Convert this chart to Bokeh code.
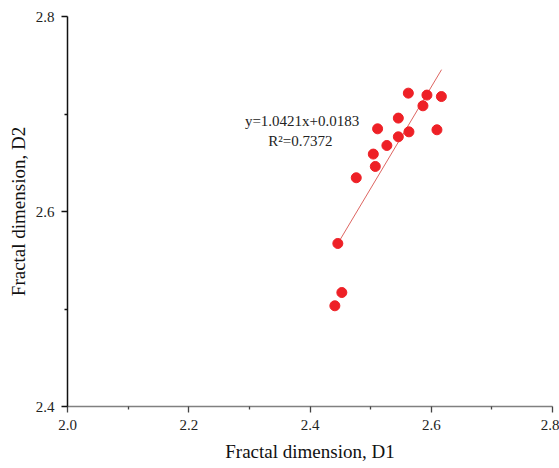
from bokeh.plotting import figure
from bokeh.models import Range1d, Label, FixedTicker
from bokeh.embed import file_html
from bokeh.resources import INLINE

# Data
d1 = [2.5622, 2.5929, 2.6167, 2.5863, 2.5457, 2.5115, 2.5632, 2.6094,
      2.5457, 2.5268, 2.5044, 2.5077, 2.4763, 2.4459, 2.4525, 2.4410]
d2 = [2.7214, 2.7194, 2.7179, 2.7084, 2.6958, 2.6848, 2.6817, 2.6838,
      2.6766, 2.6677, 2.6589, 2.6462, 2.6346, 2.5672, 2.5169, 2.5033]
slope = 1.0421
intercept = 0.0183
r2 = 0.7372
fit_x = [2.449, 2.617]
x_ticks = [2.0, 2.2, 2.4, 2.6, 2.8]
y_ticks = [2.4, 2.6, 2.8]

FONT = "Liberation Serif"

p = figure(width=559, height=468, output_backend="svg", toolbar_location=None,
           x_range=Range1d(2.0, 2.8), y_range=Range1d(2.4, 2.8),
           min_border_left=67, min_border_right=7, min_border_top=16,
           min_border_bottom=62)
p.outline_line_color = None
p.xgrid.visible = False
p.ygrid.visible = False
p.background_fill_color = "white"
p.border_fill_color = "white"

fit_y = [slope * x + intercept for x in fit_x]
p.line(fit_x, fit_y, line_color="#d9534f", line_width=0.9)
p.scatter(d1, d2, size=10, fill_color="#ee2026", line_color="#ee2026")

p.xaxis.ticker = FixedTicker(ticks=x_ticks, minor_ticks=[2.1, 2.3, 2.5, 2.7])
p.yaxis.ticker = FixedTicker(ticks=y_ticks, minor_ticks=[2.5, 2.7])
p.xaxis.major_label_overrides = {t: f"{t:.1f}" for t in x_ticks}
p.yaxis.major_label_overrides = {t: f"{t:.1f}" for t in y_ticks}

for ax in (p.xaxis, p.yaxis):
    ax.major_label_text_font = FONT
    ax.major_label_text_font_size = "15px"
    ax.major_label_text_color = "#222222"
    ax.axis_label_text_font = FONT
    ax.axis_label_text_font_size = "19px"
    ax.axis_label_text_font_style = "normal"
    ax.axis_label_text_color = "#111111"
    ax.major_tick_out = 6
    ax.major_tick_in = 0
    ax.minor_tick_out = 3
    ax.minor_tick_in = 0
    ax.axis_line_width = 1.5
    ax.major_tick_line_width = 1.3
    ax.minor_tick_line_width = 1.3

p.xaxis.axis_label = "Fractal dimension, D1"
p.yaxis.axis_label = "Fractal dimension, D2"
p.xaxis.axis_line_color = "#808080"
p.xaxis.major_tick_line_color = "#444444"
p.xaxis.minor_tick_line_color = "#444444"
p.yaxis.axis_line_color = "#111111"
p.yaxis.major_tick_line_color = "#111111"
p.yaxis.minor_tick_line_color = "#111111"
p.xaxis.major_label_standoff = 7
p.yaxis.major_label_standoff = 7
p.xaxis.axis_label_standoff = 8
p.yaxis.axis_label_standoff = 4

eq = Label(x=2.387, y=2.693, text=f"y={slope:.4f}x+{intercept:.4f}",
           text_font=FONT, text_font_size="15px", text_align="center",
           text_baseline="middle", text_color="#222222")
rr = Label(x=2.384, y=2.672, text=f"R\u00b2={r2:.4f}",
           text_font=FONT, text_font_size="15px", text_align="center",
           text_baseline="middle", text_color="#222222")
p.add_layout(eq)
p.add_layout(rr)

open("out.html", "w").write(file_html(p, INLINE))
